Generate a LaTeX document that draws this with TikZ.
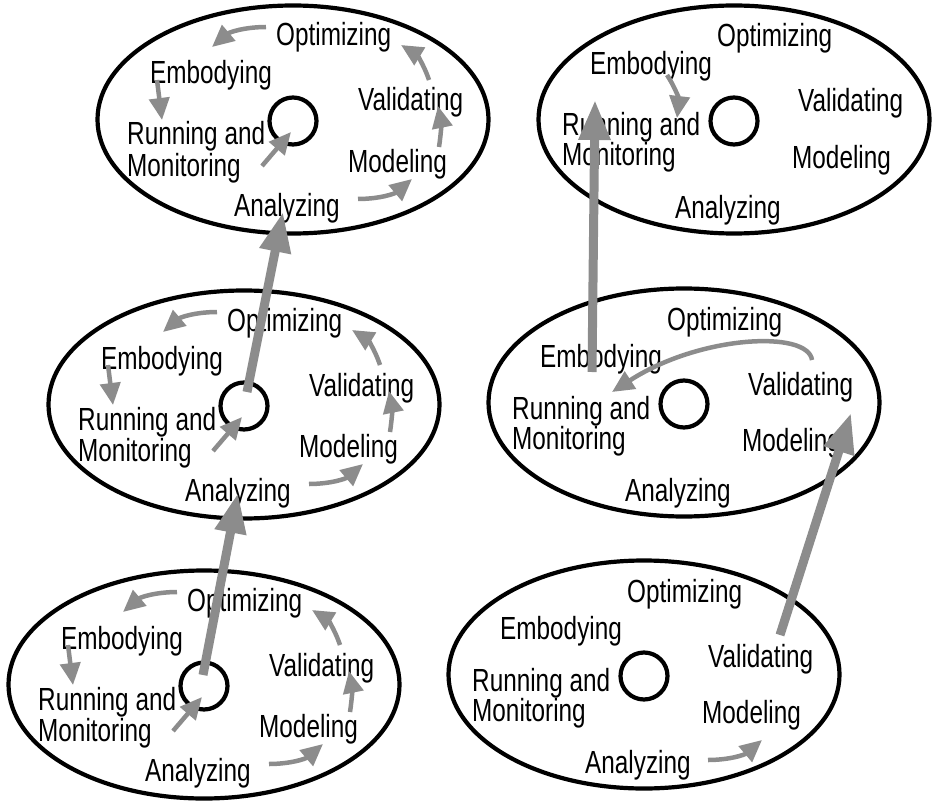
\documentclass[tikz,border=0pt]{standalone}
\usepackage{fontspec}
\newfontfamily\lblfont{Liberation Sans}[FakeStretch=0.76]
\usetikzlibrary{shapes.geometric,arrows.meta}
\definecolor{arrgray}{RGB}{140,140,140}

\tikzset{
 ell/.style={draw, ellipse, line width=4.2pt, minimum width=391pt, minimum height=228pt, inner sep=0pt, outer sep=0pt},
 hub/.style={draw, circle, line width=4.2pt, minimum size=47pt, inner sep=0pt},
 lbl/.style={anchor=base west, inner sep=0pt, font=\lblfont\fontsize{32pt}{32pt}\selectfont},
 sarr/.style={draw=arrgray, line width=4.5pt, -{Triangle[length=22pt,width=20pt]}},
 barr/.style={draw=arrgray, line width=9pt, -{Triangle[length=40pt,width=30pt]}},
}

\newcommand\cycleL[3]{%
\begin{scope}[shift={(#2,#3)}]
\node[ell] (#1-e) at (0,-1.5) {};
\node[hub] (#1-c) at (0,0) {};
\node[lbl] (#1-opt) at (-17,-75) {Optimizing};
\node[lbl] (#1-emb) at (-143,-37) {Embodying};
\node[lbl] (#1-run) at (-166,24) {Running and};
\node[lbl] (#1-mon) at (-166,55) {Monitoring};
\node[lbl] (#1-val) at (65,-10) {Validating};
\node[lbl] (#1-mod) at (55,51) {Modeling};
\node[lbl] (#1-ana) at (-59,95) {Analyzing};
\coordinate (#1-p1) at (-27,-94); \coordinate (#1-p2) at (-81,-74);
\coordinate (#1-p3) at (-136,-41); \coordinate (#1-p4) at (-131,-1);
\coordinate (#1-p5) at (-31,45); \coordinate (#1-p6) at (-2,11);
\coordinate (#1-p7) at (65,78); \coordinate (#1-p8) at (119,58);
\coordinate (#1-p9) at (146,26); \coordinate (#1-p10) at (145,-15);
\coordinate (#1-p11) at (136,-41); \coordinate (#1-p12) at (108,-76);
\draw[sarr] (#1-p1) to[bend right=20] (#1-p2);
\draw[sarr] (#1-p3) -- (#1-p4);
\draw[sarr] (#1-p5) -- (#1-p6);
\draw[sarr] (#1-p7) to[bend right=20] (#1-p8);
\draw[sarr] (#1-p9) to[bend right=10] (#1-p10);
\draw[sarr] (#1-p11) to[bend right=20] (#1-p12);
\end{scope}}

\newcommand\cycleR[4]{%
\begin{scope}[shift={(#2,#3)}]
\node[ell] (#1-e) at (0,-1.5) {};
\node[hub] (#1-c) at (0,0) {};
\node[lbl] (#1-opt) at (-17,-74) {Optimizing};
\node[lbl] (#1-emb) at (-144,#4) {Embodying};
\node[lbl] (#1-run) at (-172,15) {Running and};
\node[lbl] (#1-mon) at (-172,45) {Monitoring};
\node[lbl] (#1-val) at (64,-9) {Validating};
\node[lbl] (#1-mod) at (58,47) {Modeling};
\node[lbl] (#1-ana) at (-59,97) {Analyzing};
\end{scope}}

\begin{document}
\begin{tikzpicture}[x=1pt,y=-1pt]
\useasboundingbox (0,0) rectangle (936,805);
\cycleL{tl}{293}{121}
\cycleL{ml}{244}{406}
\cycleL{bl}{204}{686}
\cycleR{tr}{734}{121}{-46}
\cycleR{mr}{684}{404}{-37}
\cycleR{br}{644}{676}{-37}

% extra small arrows in right-hand cycles
\coordinate (br-s) at (708,760); \coordinate (br-t) at (762,740);
\draw[sarr] (br-s) to[bend right=20] (br-t);
\coordinate (tr-s) at (667,75); \coordinate (tr-t) at (677,118);
\draw[sarr] (tr-s) to[bend left=20] (tr-t);
\coordinate (mr-s) at (812,360); \coordinate (mr-t) at (612,392);
\draw[sarr] (mr-s) .. controls (808,330) and (700,335) .. (mr-t);

% big transition arrows
\coordinate (b1s) at (203,675); \coordinate (b1t) at (238,493);
\coordinate (b2s) at (247,392); \coordinate (b2t) at (283,212);
\coordinate (b3s) at (780,635); \coordinate (b3t) at (851,413);
\coordinate (b4s) at (592,372); \coordinate (b4t) at (595,100);
\draw[barr] (b1s) -- (b1t);
\draw[barr] (b2s) -- (b2t);
\draw[barr] (b3s) -- (b3t);
\draw[barr] (b4s) -- (b4t);
\end{tikzpicture}
\end{document}
